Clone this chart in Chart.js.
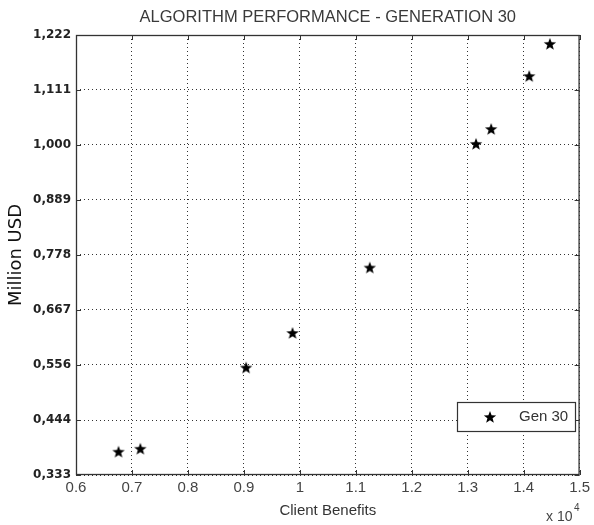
<!DOCTYPE html>
<html>
<head>
<meta charset="utf-8">
<script src="https://cdn.jsdelivr.net/npm/chart.js@4.4.1/dist/chart.umd.min.js"></script>
<style>
  body { margin: 0; background: #fff; }
  canvas { display: block; }
</style>
</head>
<body>
<canvas id="chart" width="594" height="525"></canvas>
<script>
// values
const clientBenefits = [6760, 7150, 9040, 9870, 11250, 13150, 13420, 14100, 14470];
const millionUsd = [0.380, 0.386, 0.550, 0.620, 0.752, 1.002, 1.032, 1.139, 1.204];
const xTicks = [6000, 7000, 8000, 9000, 10000, 11000, 12000, 13000, 14000, 15000];
const yTicks = [0.333, 0.444, 0.556, 0.667, 0.778, 0.889, 1.000, 1.111, 1.222];
const seriesLabel = 'Gen 30';
const chartTitle = 'ALGORITHM PERFORMANCE - GENERATION 30';

// filled five pointed star used as the marker
function makeStar(size) {
  const c = document.createElement('canvas');
  c.width = size;
  c.height = size;
  const g = c.getContext('2d');
  const cx = size / 2, cy = size / 2 + 0.5;
  const outer = size / 2 - 0.5, inner = outer * 0.42;
  g.beginPath();
  for (let i = 0; i < 10; i++) {
    const r = i % 2 === 0 ? outer : inner;
    const a = -Math.PI / 2 + i * Math.PI / 5;
    const px = cx + r * Math.cos(a), py = cy + r * Math.sin(a);
    if (i === 0) g.moveTo(px, py); else g.lineTo(px, py);
  }
  g.closePath();
  g.fillStyle = '#000';
  g.fill();
  return c;
}
const starImg = makeStar(14);

const points = clientBenefits.map((x, i) => ({ x: x, y: millionUsd[i] }));

// box, inward tick marks, legend and extra texts
const decorations = {
  id: 'decorations',
  afterDatasetsDraw(chart) {
    const { ctx, chartArea: a, scales } = chart;
    ctx.save();
    ctx.strokeStyle = '#333';
    ctx.lineWidth = 1.3;
    ctx.setLineDash([]);
    ctx.strokeRect(a.left + 0.5, a.top + 0.5, a.right - a.left - 1, a.bottom - a.top - 1);

    ctx.lineWidth = 1;
    ctx.beginPath();
    xTicks.forEach(v => {
      const px = Math.round(scales.x.getPixelForValue(v)) + 0.5;
      ctx.moveTo(px, a.bottom); ctx.lineTo(px, a.bottom - 5);
      ctx.moveTo(px, a.top); ctx.lineTo(px, a.top + 5);
    });
    yTicks.forEach(v => {
      const py = Math.round(scales.y.getPixelForValue(v)) + 0.5;
      ctx.moveTo(a.left, py); ctx.lineTo(a.left + 5, py);
      ctx.moveTo(a.right, py); ctx.lineTo(a.right - 5, py);
    });
    ctx.stroke();

    // legend
    const lx = 457, ly = 402, lw = 118, lh = 29;
    ctx.fillStyle = '#fff';
    ctx.fillRect(lx, ly, lw, lh);
    ctx.strokeStyle = '#333';
    ctx.lineWidth = 1.2;
    ctx.strokeRect(lx + 0.5, ly + 0.5, lw, lh);
    ctx.drawImage(starImg, 490 - 7, 417 - 7);
    ctx.fillStyle = '#333';
    ctx.font = '15px "Liberation Sans", Arial, sans-serif';
    ctx.textBaseline = 'middle';
    ctx.textAlign = 'left';
    ctx.fillText(seriesLabel, 519, 417);
    ctx.restore();
  },
  afterDraw(chart) {
    const { ctx, chartArea: a } = chart;
    ctx.save();
    ctx.fillStyle = '#3a3a3a';
    ctx.textAlign = 'center';
    ctx.textBaseline = 'middle';
    ctx.font = '16.5px "Liberation Sans", Arial, sans-serif';
    ctx.fillText(chartTitle, (a.left + a.right) / 2, 17);

    ctx.fillStyle = '#444';
    ctx.textAlign = 'left';
    ctx.textBaseline = 'alphabetic';
    ctx.font = '14px "Liberation Sans", Arial, sans-serif';
    ctx.fillText('x 10', 546, 521);
    ctx.font = '10px "Liberation Sans", Arial, sans-serif';
    ctx.fillText('4', 574, 511);
    ctx.restore();
  }
};

new Chart(document.getElementById('chart'), {
  type: 'scatter',
  data: {
    datasets: [{
      label: seriesLabel,
      data: points,
      pointStyle: starImg,
      pointRadius: 7,
      backgroundColor: '#000',
      borderColor: '#000'
    }]
  },
  options: {
    responsive: false,
    animation: false,
    layout: { padding: { top: 35, right: 11, left: 0, bottom: 0 } },
    plugins: {
      legend: { display: false },
      tooltip: { enabled: false }
    },
    scales: {
      x: {
        type: 'linear',
        min: xTicks[0],
        max: xTicks[xTicks.length - 1],
        afterBuildTicks: s => { s.ticks = xTicks.map(v => ({ value: v })); },
        afterFit: s => { s.height = 50; },
        grid: { color: '#333', lineWidth: 1, drawTicks: false },
        border: { display: false, dash: [1, 3] },
        ticks: {
          padding: 4,
          color: '#444',
          font: { family: '"Liberation Sans", Arial, sans-serif', size: 15 },
          callback: v => String(v / 10000)
        },
        title: {
          display: true,
          text: 'Client Benefits',
          color: '#333',
          font: { family: '"Liberation Sans", Arial, sans-serif', size: 15 },
          padding: { top: 0, bottom: 5.5 }
        }
      },
      y: {
        type: 'linear',
        min: yTicks[0],
        max: yTicks[yTicks.length - 1],
        afterBuildTicks: s => { s.ticks = yTicks.map(v => ({ value: v })); },
        afterFit: s => { s.width = 76; },
        grid: { color: '#333', lineWidth: 1, drawTicks: false },
        border: { display: false, dash: [1, 3] },
        ticks: {
          padding: 5,
          color: '#222',
          font: { family: '"DejaVu Sans", sans-serif', size: 12, weight: 'bold' },
          callback: v => v.toFixed(3).replace('.', ',')
        },
        title: {
          display: true,
          text: 'Million USD',
          color: '#111',
          font: { family: '"DejaVu Sans", sans-serif', size: 18 },
          padding: { top: 6, bottom: 0 }
        }
      }
    }
  },
  plugins: [decorations]
});
</script>
</body>
</html>
